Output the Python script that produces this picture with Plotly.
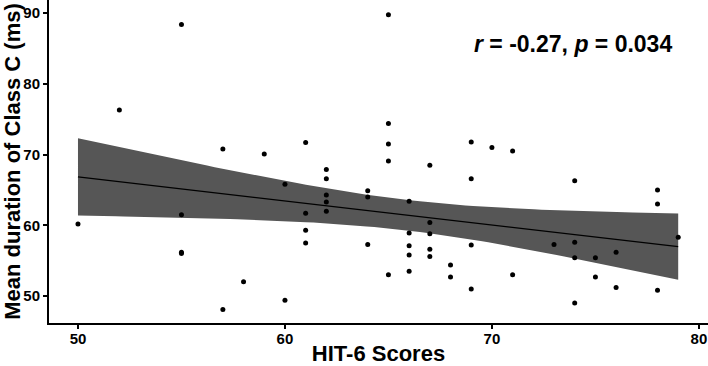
import numpy as np
import plotly.graph_objects as go

hit6 = [50, 52, 55, 55, 55, 55, 57, 57, 58, 59, 60, 60,
        61, 61, 61, 61, 62, 62, 62, 62, 62, 64, 64, 64,
        65, 65, 65, 65, 65, 66, 66, 66, 66, 66,
        67, 67, 67, 67, 67, 68, 68, 69, 69, 69, 69,
        70, 71, 71, 73, 74, 74, 74, 74, 75, 75, 76, 76,
        78, 78, 78, 79]
duration = [60.2, 76.3, 88.4, 61.5, 56.0, 56.2, 70.8, 48.1, 52.0, 70.1, 65.8, 49.4,
            71.7, 61.7, 59.3, 57.5, 67.9, 66.6, 64.3, 63.3, 62.0, 64.9, 64.0, 57.3,
            89.8, 74.4, 71.5, 69.1, 53.0, 63.4, 58.9, 57.1, 55.8, 53.5,
            68.5, 60.4, 58.8, 56.6, 55.6, 54.4, 52.7, 71.8, 66.6, 57.2, 51.0,
            71.0, 70.5, 53.0, 57.3, 66.3, 57.6, 55.4, 49.0, 55.4, 52.7, 56.2, 51.2,
            65.0, 63.0, 50.8, 58.3]
x_ticks = [50, 60, 70, 80]
y_ticks = [50, 60, 70, 80, 90]
t_crit = 2.001  # t(0.975, df=59)

x = np.array(hit6, float)
y = np.array(duration, float)
n = len(x)
b1, b0 = np.polyfit(x, y, 1)
resid = y - (b0 + b1 * x)
s = np.sqrt(np.sum(resid ** 2) / (n - 2))
xs = np.linspace(x.min(), x.max(), 80)
ys = b0 + b1 * xs
se = s * np.sqrt(1 / n + (xs - x.mean()) ** 2 / np.sum((x - x.mean()) ** 2))
lo = ys - t_crit * se
hi = ys + t_crit * se

font = "Liberation Sans, Arial, sans-serif"
fig = go.Figure()
fig.add_trace(go.Scatter(x=np.concatenate([xs, xs[::-1]]), y=np.concatenate([hi, lo[::-1]]),
                         fill="toself", fillcolor="#565656", line=dict(width=0),
                         mode="lines", hoverinfo="skip", showlegend=False))
fig.add_trace(go.Scatter(x=xs, y=ys, mode="lines", line=dict(color="black", width=1.2),
                         showlegend=False))
fig.add_trace(go.Scatter(x=hit6, y=duration, mode="markers",
                         marker=dict(color="black", size=5), showlegend=False))

fig.add_annotation(x=0.795, y=0.864, xref="paper", yref="paper", showarrow=False,
                   xanchor="center", yanchor="middle",
                   text="<b><i>r</i> = -0.27, <i>p</i> = 0.034</b>",
                   font=dict(family=font, size=23, color="black"))

axis_common = dict(showline=True, linecolor="black", linewidth=2, ticks="outside",
                   ticklen=4, tickwidth=2, tickcolor="black", showgrid=False, zeroline=False,
                   automargin=False,
                   tickfont=dict(family=font, size=15, color="black"))
fig.update_xaxes(range=[48.6, 80.44], tickvals=x_ticks, ticktext=[f"<b>{v}</b>" for v in x_ticks],
                 ticklabelstandoff=-3,
                 title=dict(text="<b>HIT-6 Scores</b>", font=dict(family=font, size=22, color="black"),
                            standoff=2), **axis_common)
fig.update_yaxes(range=[46.18, 91.87], tickvals=y_ticks, ticktext=[f"<b>{v}</b>" for v in y_ticks],
                 title=dict(text="<b>Mean duration of Class C (ms)</b>",
                            font=dict(family=font, size=22, color="black"), standoff=2),
                 **axis_common)
fig.update_layout(width=708, height=366, margin=dict(l=49, r=0, t=0, b=43),
                  plot_bgcolor="white", paper_bgcolor="white")
fig.write_html("out.html", config={"displayModeBar": False},
               post_script="document.body.style.margin='0';")
